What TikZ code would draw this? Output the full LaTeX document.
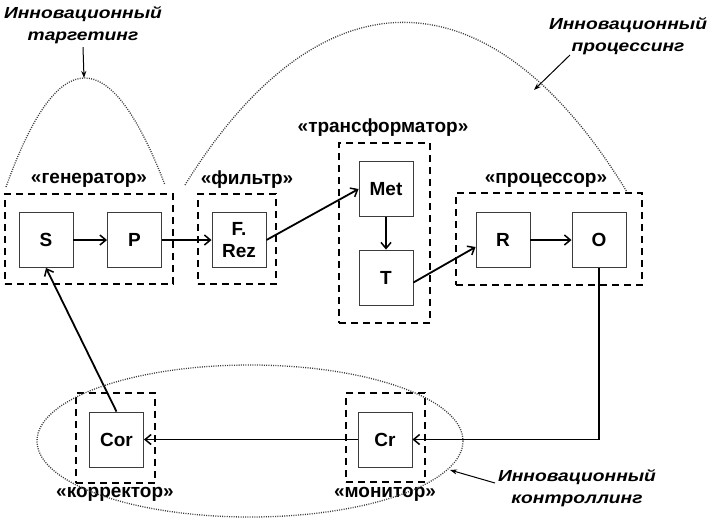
\documentclass[tikz,border=0pt]{standalone}
\usepackage{fontspec}
\setmainfont{Liberation Sans}
\newfontfamily\notefont[FakeStretch=1.2]{Liberation Sans}
\usetikzlibrary{arrows.meta}

\begin{document}
\begin{tikzpicture}[x=1pt, y=-1pt,
  block/.style={draw=boxline, line width=0.9pt, minimum width=54pt, minimum height=55pt,
    inner sep=0pt, align=center, font=\fontsize{19}{22}\selectfont\bfseries},
  groupbox/.style={draw, line width=2.2pt, dash pattern=on 7pt off 5pt, inner sep=0pt},
  grouplabel/.style={font=\fontsize{19}{22}\selectfont\bfseries},
  notelabel/.style={align=center, font=\fontsize{16}{22}\notefont\bfseries\itshape},
  flow/.style={line width=1.8pt, -{Straight Barb[length=6pt,width=10pt,line width=1.5pt]}},
  pointer/.style={line width=1pt, -{Stealth[length=7pt,width=5pt]}},
  dotarc/.style={draw=dotgray, line width=1.3pt, dash pattern=on 1pt off 1.3pt}
]

% === Colors ===
\definecolor{boxline}{RGB}{60,60,60}
\definecolor{dotgray}{RGB}{60,60,60}

\useasboundingbox (0,0) rectangle (709,523);

% === Dashed groups ===
\node[groupbox, minimum width=168pt, minimum height=90pt] (gen)   at (89,239) {};
\node[groupbox, minimum width=78pt,  minimum height=90pt] (filt)  at (237,239) {};
\node[groupbox, minimum width=91pt,  minimum height=180pt] (trans) at (384.5,233) {};
\node[groupbox, minimum width=186pt, minimum height=92pt] (proc)  at (549,239) {};
\node[groupbox, minimum width=79pt,  minimum height=90pt] (corr)  at (115.5,438) {};
\node[groupbox, minimum width=79pt,  minimum height=89pt] (mon)   at (385.5,437.5) {};

% === Group labels ===
\node[grouplabel] (genlab)   at (89,180)  {«генератор»};
\node[grouplabel] (filtlab)  at (247,180) {«фильтр»};
\node[grouplabel] (translab) at (383,128) {«трансформатор»};
\node[grouplabel] (proclab)  at (546,180) {«процессор»};
\node[grouplabel] (corrlab)  at (115,494) {«корректор»};
\node[grouplabel] (monlab)   at (385,494) {«монитор»};

% === Blocks ===
\foreach \name/\x/\y in {
  S/46/240,
  P/134.5/240,
  Met/386/189,
  T/386/277.5,
  R/503/240,
  O/599/240,
  Cor/116.5/439.5,
  Cr/385/439.5
}{
  \node[block, fill=white] (\name) at (\x,\y) {\name};
}
\node[block, fill=white] (FRez) at (239,240) {F.\\Rez};

% === Flow arrows ===
\draw[flow] (S) -- (P);
\draw[flow] (P) -- (FRez);
\draw[flow] (FRez.east) -- (Met.west);
\draw[flow] (Met) -- (T);
\draw[flow] ([yshift=-5pt]T.east) -- ([yshift=-7pt]R.west);
\draw[flow] (R) -- (O);
\draw[flow] (O.south) |- (Cr.east);
\draw[flow] (Cr.west) -- (Cor.east);
\draw[flow] (Cor.north) -- (S.south);

% === Dotted arcs ===
\coordinate (targtop) at (84,78);
\coordinate (procmid) at (534,90);
\coordinate (ctrlend) at (450,470);
\draw[dotarc] (6,187) .. controls (58,42) and (110,42) .. (165,185);
\draw[dotarc] (185,185) .. controls (320,-33) and (490,-33) .. (627,192);
\draw[dotarc] (250,441) ellipse (213 and 76);

% === Notes ===
\node[notelabel] (targ) at (83,25)  {Инновационный\\таргетинг};
\node[notelabel] (procn) at (628,36) {Инновационный\\процессинг};
\node[notelabel] (ctrl) at (577,488) {Инновационный\\контроллинг};
\draw[pointer] (targ.south) -- (targtop);
\draw[pointer] (570,55) -- (procmid);
\draw[pointer] (495,483) -- (ctrlend);

\end{tikzpicture}
\end{document}
